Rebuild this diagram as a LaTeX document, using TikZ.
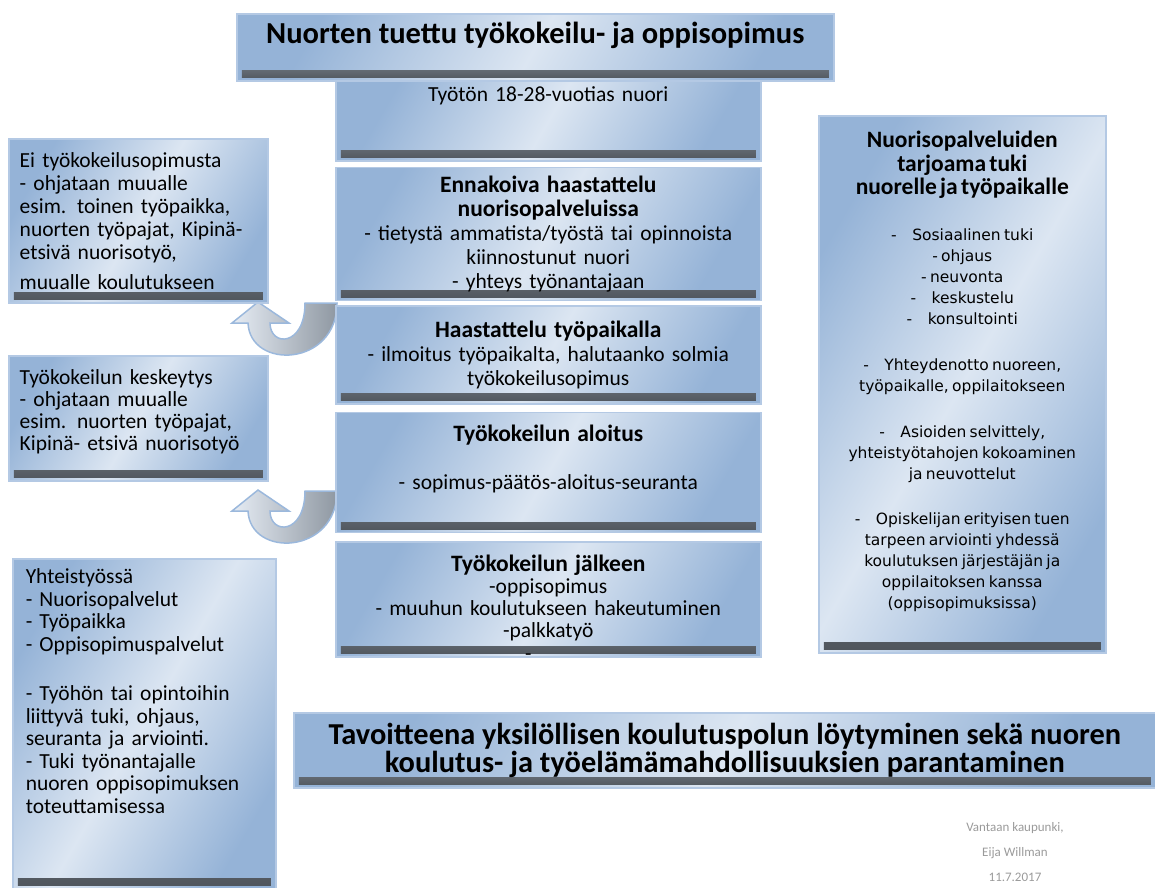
\documentclass[tikz,border=0pt]{standalone}
\usepackage{fontspec}
\setmainfont{Carlito}
\newfontfamily\dejavu{DejaVu Sans}
\usetikzlibrary{positioning}
\definecolor{panedark}{HTML}{95B3D7}
\definecolor{panelight}{HTML}{DCE6F2}
\definecolor{paneedge}{HTML}{B4C9E4}
\definecolor{stripdark}{HTML}{4F555C}
\definecolor{arrowedge}{HTML}{9BB8DC}
\definecolor{arrowlight}{HTML}{E6ECF4}
\definecolor{arrowdark}{HTML}{8F98A2}
\definecolor{creditgray}{HTML}{9A9A9A}
\begin{document}
\begin{tikzpicture}[x=1pt,y=-1pt,
    panel/.style={draw=paneedge,line width=1.5pt,left color=panedark,right color=panedark,
      middle color=panelight,shading angle=60,anchor=north west,inner sep=5pt,
      path picture={\shade[top color=panelight!80!panedark,bottom color=stripdark]
        ([xshift=5pt,yshift=3pt]path picture bounding box.south west) rectangle
        ([xshift=-5pt,yshift=10pt]path picture bounding box.south east);}},
    midbox/.style={panel,text width=405pt,inner xsep=10pt,align=center,
      font=\fontsize{21.5}{24}\selectfont},
    sidebox/.style={panel,text width=237pt,inner xsep=11pt,align=left,
      font=\fontsize{21.5}{23}\selectfont},
    uturn/.pic={
      \path[draw=arrowedge,line width=1.5pt,left color=arrowlight,right color=arrowdark]
        (0,0) -- (31,21) -- (12,21) .. controls (12,45) and (47,45) .. (47,1)
        -- (79,1) .. controls (79,65) and (-8,68) .. (-10,21) -- (-26,21) -- cycle;}]
  \useasboundingbox (0,0) rectangle (1155,887);

  % u-turn arrows back to the left column
  \pic at (258,302) {uturn};
  \pic at (258,490) {uturn};

  \node[panel,minimum width=597pt,minimum height=67pt,text height=23pt,text depth=30pt,
    font=\bfseries\fontsize{30.5}{32}\selectfont] (title) at (236,13)
    {Nuorten tuettu työkokeilu- ja oppisopimus};

  % middle column
  \node[midbox,minimum height=80pt,text height=13pt,text depth=52pt,inner ysep=4pt]
    (young) at (335,80) {Työtön 18-28-vuotias nuori};
  \node[midbox,minimum height=133pt,below=5pt of young] (preview)
    {{\bfseries\fontsize{23.5}{24}\selectfont Ennakoiva haastattelu}\\
     {\bfseries\fontsize{23.5}{24}\selectfont nuorisopalveluissa}\\
     - tietystä ammatista/työstä tai opinnoista\\ kiinnostunut nuori\\ - yhteys työnantajaan};
  \node[midbox,minimum height=98pt,below=4pt of preview] (interview)
    {{\bfseries\fontsize{23.5}{24}\selectfont Haastattelu työpaikalla}\\
     - ilmoitus työpaikalta, halutaanko solmia\\ työkokeilusopimus};
  \node[midbox,text height=24pt,text depth=86pt,below=7pt of interview] (start)
    {{\bfseries\fontsize{23.5}{24}\selectfont Työkokeilun aloitus}\\[24pt]
     - sopimus-päätös-aloitus-seuranta};
  \node[midbox,text height=25pt,text depth=80pt,below=8pt of start,font=\fontsize{21.5}{22}\selectfont,
    label={[anchor=center,xshift=-20pt,font=\fontsize{21}{23}\selectfont]south:-}] (after)
    {{\bfseries\fontsize{23.5}{22}\selectfont Työkokeilun jälkeen}\\ -oppisopimus\\
     - muuhun koulutukseen hakeutuminen\\ -palkkatyö};

  % left column
  \node[sidebox,minimum height=164pt] (nodeal) at (8,138)
    {Ei työkokeilusopimusta\\ - ohjataan muualle\\ esim. toinen työpaikka,\\
     nuorten työpajat, Kipinä-\\ etsivä nuorisotyö,\\[7pt] muualle koulutukseen};
  \node[sidebox,text height=24pt,text depth=91pt,font=\fontsize{21.5}{22}\selectfont] (stop) at (8,355)
    {Työkokeilun keskeytys\\ - ohjataan muualle\\ esim. nuorten työpajat,\\ Kipinä- etsivä nuorisotyö};
  \node[sidebox,text height=20pt,text depth=300pt,inner xsep=13pt,
    font=\fontsize{21.5}{22.5}\selectfont] (coop) at (12,558)
    {Yhteistyössä\\ - Nuorisopalvelut\\ - Työpaikka\\ - Oppisopimuspalvelut\\[27pt]
     - Työhön tai opintoihin\\ liittyvä tuki, ohjaus,\\ seuranta ja arviointi.\\
     - Tuki työnantajalle\\ nuoren oppisopimuksen\\ toteuttamisessa};

  % right column
  \node[panel,text width=267pt,inner xsep=10pt,align=center,text height=27pt,
    text depth=500pt] (support) at (818,115)
    {{\bfseries\fontsize{23.5}{23.5}\selectfont Nuorisopalveluiden\\ tarjoama tuki\\
      nuorelle ja työpaikalle\par}
     \vspace{25pt}
     {\dejavu\fontsize{15.5}{21}\selectfont
      -\quad Sosiaalinen tuki\\ - ohjaus\\ - neuvonta\\ -\quad keskustelu\\ -\quad konsultointi\\[25pt]
      -\quad Yhteydenotto nuoreen,\\ työpaikalle, oppilaitokseen\\[25pt]
      -\quad Asioiden selvittely,\\ yhteistyötahojen kokoaminen\\ ja neuvottelut\\[24pt]
      -\quad Opiskelijan erityisen tuen\\ tarpeen arviointi yhdessä\\ koulutuksen järjestäjän ja\\
      oppilaitoksen kanssa\\ (oppisopimuksissa)\par}};

  \node[panel,minimum width=862pt,minimum height=75pt,align=center,
    font=\bfseries\fontsize{30.4}{28}\selectfont] (goal) at (293,712)
    {Tavoitteena yksilöllisen koulutuspolun löytyminen sekä nuoren\\
     koulutus- ja työelämämahdollisuuksien parantaminen};

  \node[align=center,text=creditgray,font=\fontsize{13}{25}\selectfont] (credit) at (1015,852)
    {Vantaan kaupunki,\\ Eija Willman\\ 11.7.2017};
\end{tikzpicture}
\end{document}
